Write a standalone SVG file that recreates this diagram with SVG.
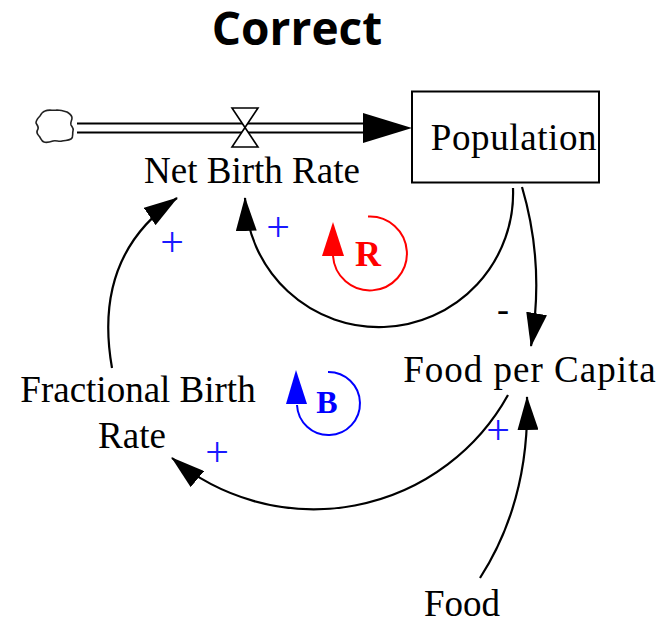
<svg xmlns="http://www.w3.org/2000/svg" width="664" height="620" viewBox="0 0 664 620">
<style>
.lbl{font-family:"Liberation Serif","Times New Roman",serif;font-size:37px;fill:#000;text-anchor:middle}
.pol{font-family:"Liberation Serif","Times New Roman",serif;font-size:42px;fill:#1a1aff;text-anchor:middle}
.link{fill:none;stroke:#000;stroke-width:2.2;marker-end:url(#ah)}
.pipe{stroke:#000;stroke-width:2.2}
.loopR{fill:none;stroke:#ff0000;stroke-width:2}
.loopB{fill:none;stroke:#0000ff;stroke-width:2}
</style>
<defs>
<marker id="ah" viewBox="0 0 34 21" refX="33" refY="10.5" markerWidth="34" markerHeight="21" markerUnits="userSpaceOnUse" orient="auto">
<path d="M0,0 L34,10.5 L0,21 Z" fill="#000"/>
</marker>
</defs>
<rect width="664" height="620" fill="#fff"/>
<text x="297" y="45" font-family="'Open Sans','DejaVu Sans',sans-serif" font-weight="bold" font-size="46" text-anchor="middle">Correct</text>

<g id="connectors">
<path class="link" d="M513,188 A134,134 0 0,1 245,198"/>
<path class="link" d="M522,187 Q545,265 531,346"/>
<path class="link" d="M112,368 C100,300 115,240 177,198"/>
<path class="link" d="M508,395 A222,222 0 0,1 172,458"/>
<path class="link" d="M480,578 Q530,500 527,397"/>
<text class="pol" x="278" y="241">+</text>
<text class="pol" x="172" y="256">+</text>
<text class="pol" x="217" y="466">+</text>
<text class="pol" x="498" y="444">+</text>
<text x="503" y="321" font-family="'Liberation Serif',serif" font-size="36" text-anchor="middle">-</text>
</g>

<g id="flow-net-birth-rate">
<path d="M45,111 c4,-2 8,0 12,-1 c4,0 7,1 10,2 c3,2 5,3 5,6 c0,3 -2,4 -1,7 c1,2 3,3 2,6 c-1,3 1,6 -2,8 c-3,2 -6,1 -9,2 c-3,1 -6,-1 -9,0 c-3,1 -6,2 -9,1 c-3,-1 -3,-4 -5,-6 c-2,-2 -3,-4 -1,-7 c1,-2 -1,-4 -2,-6 c0,-3 2,-5 4,-7 c1,-2 2,-4 5,-5 Z" fill="#fff" stroke="#222" stroke-width="1.6"/>
<line class="pipe" x1="77" y1="123.5" x2="366" y2="123.5"/>
<line class="pipe" x1="77" y1="132.5" x2="366" y2="132.5"/>
<path d="M363,113 L412,128 L363,143 Z" fill="#000"/>
<path d="M232,108 L258,108 L232,147 L258,147 Z" fill="#fff" stroke="#000" stroke-width="1.6"/>
<text class="lbl" x="252" y="183">Net Birth Rate</text>
</g>

<g id="population">
<rect x="412" y="91.5" width="187" height="91" fill="#fff" stroke="#000" stroke-width="2"/>
<text class="lbl" x="514" y="150" letter-spacing="0.6">Population</text>
</g>

<g id="fractional-birth-rate">
<text class="lbl" x="138" y="402">Fractional Birth</text>
<text class="lbl" x="132" y="448">Rate</text>
</g>

<g id="food-per-capita">
<text class="lbl" x="530" y="382" letter-spacing="1">Food per Capita</text>
</g>

<g id="food">
<text class="lbl" x="462" y="616">Food</text>
</g>

<g id="loop-R">
<path class="loopR" d="M368,216.5 A37,37 0 1,1 333,256"/>
<path d="M333,222 L344,256 L322,256 Z" fill="#ff0000"/>
<text x="368" y="266" font-family="'Liberation Serif',serif" font-weight="bold" font-size="36" fill="#ff0000" text-anchor="middle">R</text>
</g>

<g id="loop-B">
<path class="loopB" d="M328,372 A31.5,31.5 0 1,1 297,405"/>
<path d="M296,370 L307,404 L286,404 Z" fill="#0000ff"/>
<text x="327" y="413" font-family="'Liberation Serif',serif" font-weight="bold" font-size="32" fill="#0000ff" text-anchor="middle">B</text>
</g>
</svg>
